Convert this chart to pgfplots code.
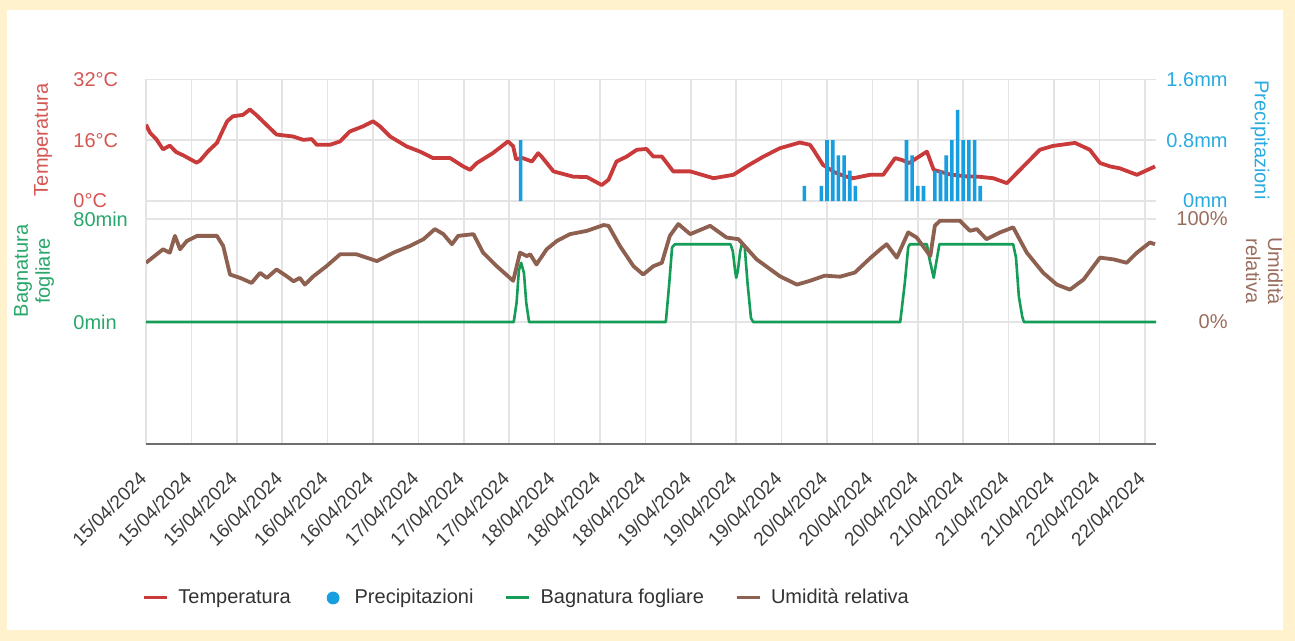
\documentclass[border=0pt]{standalone}
\usepackage{fontspec}
\setmainfont{Liberation Sans}
\usepackage{pgfplots}
\pgfplotsset{compat=1.18}
\usepackage{pgfplotstable}

\definecolor{cream}{RGB}{255,242,204}
\definecolor{gridc}{RGB}{228,228,228}
\definecolor{axisc}{RGB}{110,110,110}
\definecolor{tempLine}{RGB}{201,58,58}
\definecolor{tempTxt}{RGB}{214,86,84}
\definecolor{precipBar}{RGB}{22,158,222}
\definecolor{precipTxt}{RGB}{41,171,226}
\definecolor{greenLine}{RGB}{21,157,88}
\definecolor{greenTxt}{RGB}{40,167,106}
\definecolor{brownLine}{RGB}{141,96,80}
\definecolor{brownTxt}{RGB}{154,110,95}
\definecolor{dateTxt}{RGB}{60,60,60}
\definecolor{legTxt}{RGB}{51,51,51}

\pgfplotstableread{
h T
0 20.1
0.7 18.0
1.8 16.3
3.0 13.6
4.2 14.6
5.3 12.9
6.6 12.0
8.9 10.1
9.5 10.6
11.0 13.2
12.5 15.3
13.5 18.5
14.3 21.0
15.3 22.3
17.1 22.7
18.3 24.1
19.4 22.7
21.2 20.1
23.0 17.5
25.9 17.0
27.7 16.1
29.2 16.3
30.1 14.8
32.4 14.8
34.2 15.7
35.9 18.3
38.3 19.7
40.0 21.0
41.2 19.7
43.0 17.0
45.9 14.4
48.3 13.0
50.6 11.3
53.6 11.3
55.9 9.1
57.1 8.2
58.3 10.0
61.1 12.6
63.8 15.7
64.7 14.4
65.2 11.0
66.4 11.3
68.0 10.4
69.1 12.6
69.7 11.7
71.8 7.8
75.3 6.4
77.7 6.3
80.3 4.2
81.5 5.6
82.9 10.4
84.7 11.7
86.5 13.5
88.2 13.7
89.4 11.7
90.9 11.7
92.9 7.8
95.9 7.8
100.0 6.0
103.5 6.9
105.8 9.1
108.8 11.7
111.7 13.9
115.2 15.4
117.0 14.8
117.6 13.5
119.3 9.5
121.4 7.5
123.2 6.5
124.6 6.0
127.6 6.9
129.9 6.9
132.0 11.3
133.2 10.8
134.5 10.0
135.8 11.3
137.6 13.0
138.8 8.2
141.7 7.0
144.3 6.5
146.7 6.4
149.3 6.0
151.7 4.7
154.0 8.2
157.5 13.5
159.8 14.5
163.7 15.3
166.3 13.5
168.1 10.0
169.9 9.1
171.6 8.6
174.6 6.9
177.8 9.1
}\temptable

\pgfplotstableread{
h P
66 0.8
116 0.2
119 0.2
120 0.8
121 0.8
122 0.6
123 0.6
124 0.4
125 0.2
134 0.8
135 0.6
136 0.2
137 0.2
139 0.4
140 0.4
141 0.6
142 0.8
143 1.2
144 0.8
145 0.8
146 0.8
147 0.2
}\preciptable

\pgfplotstableread{
h B
0 0
64.8 0
65.3 15
65.7 40
66.1 46
66.6 38
67.0 15
67.5 0
91.6 0
92.2 30
92.7 58
93.2 60.4
103.0 60.4
103.4 55
103.8 40
104.0 34.3
104.3 40
104.7 55
105.0 60.4
105.5 58
106.0 30
106.6 3
107.0 0
132.9 0
133.7 30
134.3 58
134.6 60.4
137.6 60.4
138.0 50
138.8 34.3
139.2 45
139.8 60.4
152.8 60.4
153.3 50
153.8 20
154.4 4
154.7 0
177.97 0
}\wettable

\pgfplotstableread{
h H
0 57.5
3.0 70.6
4.2 67.3
5.1 83.6
6.0 70.6
7.2 78.7
9.0 83.6
12.5 83.6
13.6 73.8
14.8 46.1
16.6 42.8
18.6 37.9
20.1 47.7
21.3 42.8
23.0 51
24.8 44.4
26.0 39.5
27.1 42.8
28.0 36.3
29.5 44.4
31.8 54.2
34.2 65.7
37.1 65.7
40.7 59.1
43.6 67.3
46.5 73.8
48.9 80.4
50.9 90.2
52.4 85.3
53.9 75.5
55.0 83.6
57.7 85.3
59.4 67.3
61.8 54.2
64.7 40.0
65.9 67.3
67.1 64.0
67.7 65.7
68.8 55.9
70.6 70.6
72.4 78.7
74.7 85.3
77.7 88.5
80.6 94.1
81.5 93.4
83.5 73.8
85.9 54.2
87.6 46.1
89.4 54.2
90.9 57.5
92.3 83.6
93.8 95.1
95.9 85.3
99.4 93.4
102.3 82.0
104.4 80.4
107.6 60.8
111.7 44.4
114.7 36.3
117.0 40.0
119.6 45.0
122.3 44.0
124.9 48.0
127.6 62.0
129.4 70.6
130.5 75.5
132.3 62.5
134.3 87.0
135.8 82.0
138.2 64.0
139.0 93.4
139.9 98.3
143.4 98.3
145.2 88.5
146.4 90.2
148.1 80.4
150.5 87.0
152.8 91.9
155.2 67.3
158.1 47.7
160.5 36.3
162.8 31.4
165.2 41.2
168.1 62.5
170.5 60.8
172.8 57.5
174.6 67.3
176.9 77.2
177.8 75.5
}\humtable

\pgfplotsset{
  base/.style={
    scale only axis, width=505pt, xmin=0, xmax=177.97,
    axis line style={draw=none}, major tick length=0pt, tick style={draw=none},
    xtick={0,8,...,176},
    grid style={gridc, line width=0.75pt},
    tick label style={font=\fontsize{10}{12}\selectfont},
  }
}

\begin{document}
\begin{tikzpicture}[x=1pt,y=1pt]
\fill[cream] (0,0) rectangle (647.5,-320.5);
\useasboundingbox (0,0) rectangle (647.5,-320.5);
\fill[white] (3.5,-5) rectangle (641.5,-315);

% top panel: temperature
\begin{axis}[base, at={(73pt,-109.5pt)}, anchor=south west, height=69.75pt,
  ymin=-4.74, ymax=32, ytick={0,16,32}, yticklabels={0°C,16°C,32°C},
  xticklabels={}, xmajorgrids, ymajorgrids,
  yticklabel style={anchor=west, inner sep=0pt, xshift=-36.5pt, text=tempTxt}]
\addplot[tempLine, line width=1.9pt, line join=round] table[x=h,y=T]{\temptable};
\end{axis}

% top panel: precipitation
\begin{axis}[base, at={(73pt,-109.5pt)}, anchor=south west, height=69.75pt,
  ymin=-0.237, ymax=1.6, ytick={0,0.8,1.6}, yticklabels={0mm,0.8mm,1.6mm},
  yticklabel pos=right, xticklabels={},
  yticklabel style={anchor=east, inner sep=0pt, xshift=36pt, text=precipTxt},
  ybar, bar width=1.8pt]
\addplot[fill=precipBar, draw=none] table[x=h,y=P]{\preciptable};
\end{axis}

% bottom panel: leaf wetness
\begin{axis}[base, at={(73pt,-222pt)}, anchor=south west, height=112.5pt,
  ymin=-94.76, ymax=80, ytick={0,80}, yticklabels={0min,80min},
  xmajorgrids, ymajorgrids,
  xticklabels={15/04/2024,15/04/2024,15/04/2024,16/04/2024,16/04/2024,16/04/2024,17/04/2024,17/04/2024,17/04/2024,18/04/2024,18/04/2024,18/04/2024,19/04/2024,19/04/2024,19/04/2024,20/04/2024,20/04/2024,20/04/2024,21/04/2024,21/04/2024,21/04/2024,22/04/2024,22/04/2024},
  xticklabel style={xshift=-16pt, yshift=-6pt, rotate=45, anchor=east, inner sep=0pt, xshift=3.5pt, yshift=-17pt, text=dateTxt, font=\fontsize{9.5}{11}\selectfont},
  yticklabel style={anchor=west, inner sep=0pt, xshift=-36.5pt, text=greenTxt}]
\addplot[greenLine, line width=1.3pt, line join=round] table[x=h,y=B]{\wettable};
\draw[axisc, line width=1pt] (rel axis cs:0,0) -- (rel axis cs:1,0);
\end{axis}

% bottom panel: humidity
\begin{axis}[base, at={(73pt,-222pt)}, anchor=south west, height=112.5pt,
  ymin=-118.45, ymax=100, ytick={0,100}, yticklabels={0\%,100\%},
  yticklabel pos=right, xticklabels={},
  yticklabel style={anchor=east, inner sep=0pt, xshift=36pt, text=brownTxt},
  legend columns=4,
  legend style={at={(-0.004,-0.6844)}, anchor=west, draw=none, fill=none, inner sep=0pt,
    font=\fontsize{10}{12}\selectfont, text=legTxt, column sep=5pt,
    nodes={inner sep=0pt},
    /tikz/every even column/.append style={column sep=15.5pt}},
  legend image code/.code={\draw[#1] (0pt,0pt) -- (11.5pt,0pt);}]
\addplot[brownLine, line width=1.9pt, line join=round, forget plot] table[x=h,y=H]{\humtable};
\addlegendimage{tempLine, line width=1.5pt}
\addlegendentry{Temperatura}
\addlegendimage{legend image code/.code={\path[draw=none] (0pt,0pt) -- (11.5pt,0pt); \fill[precipBar] (5.75pt,0pt) circle (3pt);}}
\addlegendentry{Precipitazioni}
\addlegendimage{greenLine, line width=1.5pt}
\addlegendentry{Bagnatura fogliare}
\addlegendimage{brownLine, line width=1.5pt}
\addlegendentry{Umidità relativa}
\end{axis}

\node[rotate=90, text=tempTxt, font=\fontsize{10}{12}\selectfont] at (21.5,-70) {Temperatura};
\node[rotate=90, text=greenTxt, align=center, font=\fontsize{10}{11}\selectfont] at (17,-135.5) {Bagnatura\\fogliare};
\node[rotate=-90, text=precipTxt, font=\fontsize{10}{12}\selectfont] at (630,-70) {Precipitazioni};
\node[rotate=-90, text=brownTxt, align=center, font=\fontsize{10}{11}\selectfont] at (632.2,-135.5) {Umidità\\relativa};
\end{tikzpicture}
\end{document}
